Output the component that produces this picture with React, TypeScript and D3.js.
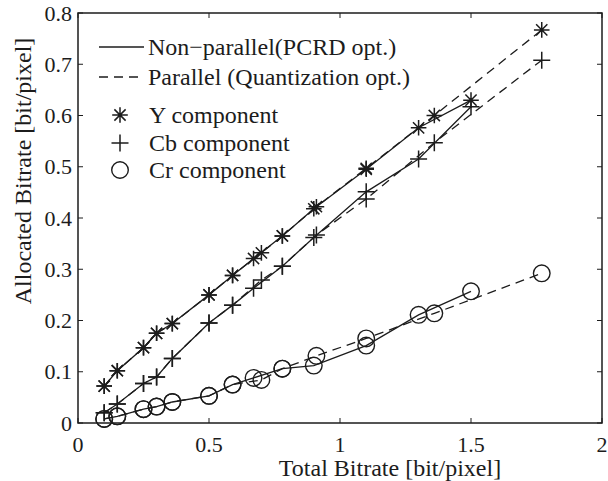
import React from 'react';
import * as d3 from 'd3';

// Non-parallel (PCRD opt.) - solid
const solidX = [0.1, 0.15, 0.25, 0.3, 0.36, 0.5, 0.59, 0.67, 0.78, 0.9, 1.1, 1.3, 1.5];
const solidY = [0.072, 0.102, 0.147, 0.175, 0.194, 0.25, 0.288, 0.321, 0.365, 0.418, 0.495, 0.576, 0.63];
const solidCb = [0.02, 0.037, 0.077, 0.09, 0.126, 0.195, 0.23, 0.263, 0.306, 0.362, 0.451, 0.515, 0.617];
const solidCr = [0.008, 0.013, 0.027, 0.032, 0.041, 0.053, 0.075, 0.088, 0.106, 0.112, 0.151, 0.211, 0.257];

// Parallel (Quantization opt.) - dashed
const dashedX = [0.1, 0.15, 0.25, 0.3, 0.36, 0.5, 0.59, 0.7, 0.78, 0.91, 1.1, 1.36, 1.77];
const dashedY = [0.072, 0.102, 0.147, 0.175, 0.194, 0.25, 0.288, 0.332, 0.365, 0.422, 0.497, 0.6, 0.767];
const dashedCb = [0.02, 0.037, 0.077, 0.09, 0.126, 0.195, 0.23, 0.279, 0.306, 0.367, 0.437, 0.547, 0.708];
const dashedCr = [0.008, 0.013, 0.027, 0.032, 0.041, 0.053, 0.075, 0.084, 0.106, 0.131, 0.165, 0.214, 0.292];

const xTicks = [0, 0.5, 1, 1.5, 2];
const yTicks = [0, 0.1, 0.2, 0.3, 0.4, 0.5, 0.6, 0.7, 0.8];

const W = 608;
const H = 481;
const margin = { left: 78, right: 6, top: 13, bottom: 58 };
const ink = '#1c1c1c';
const font = '"Liberation Serif", "Times New Roman", serif';

const markerPath = (kind: string, s: number) => {
  if (kind === 'plus') return `M${-s},0H${s}M0,${-s}V${s}`;
  const d = s * 0.72;
  return `M${-s},0H${s}M0,${-s}V${s}M${-d},${-d}L${d},${d}M${-d},${d}L${d},${-d}`;
};

const Marker = ({ kind, x, y }: { kind: string; x: number; y: number }) => {
  if (kind === 'circle')
    return <circle cx={x} cy={y} r={8.3} fill="none" stroke={ink} strokeWidth={1.4} />;
  const s = kind === 'plus' ? 8.5 : 7.8;
  return <path d={markerPath(kind, s)} transform={`translate(${x},${y})`} fill="none" stroke={ink} strokeWidth={1.5} />;
};

export default function App() {
  const x = d3.scaleLinear().domain([0, 2]).range([margin.left, W - margin.right]);
  const y = d3.scaleLinear().domain([0, 0.8]).range([H - margin.bottom, margin.top]);
  const line = d3
    .line<[number, number]>()
    .x((d) => x(d[0]))
    .y((d) => y(d[1]));

  const series = [
    { xs: solidX, ys: solidY, kind: 'star', dash: undefined },
    { xs: solidX, ys: solidCb, kind: 'plus', dash: undefined },
    { xs: solidX, ys: solidCr, kind: 'circle', dash: undefined },
    { xs: dashedX, ys: dashedY, kind: 'star', dash: '9,6' },
    { xs: dashedX, ys: dashedCb, kind: 'plus', dash: '9,6' },
    { xs: dashedX, ys: dashedCr, kind: 'circle', dash: '9,6' },
  ];

  const [x0, x1] = x.range();
  const [y0, y1] = y.range();

  return (
    <svg width={W} height={H} style={{ position: 'absolute', left: 0, top: 0, background: '#fff' }} fontFamily={font}>
      <rect width={W} height={H} fill="#fff" />
      {series.map((s, i) => (
        <g key={i}>
          <path
            d={line(s.xs.map((v, j) => [v, s.ys[j]]) as [number, number][]) as string}
            fill="none"
            stroke={ink}
            strokeWidth={1.3}
            strokeDasharray={s.dash}
          />
          {s.xs.map((v, j) => (
            <Marker key={j} kind={s.kind} x={x(v)} y={y(s.ys[j])} />
          ))}
        </g>
      ))}

      {/* axes box and ticks */}
      <rect x={x0} y={y1} width={x1 - x0} height={y0 - y1} fill="none" stroke={ink} strokeWidth={1.5} />
      {xTicks.map((t) => (
        <g key={'x' + t}>
          <line x1={x(t)} x2={x(t)} y1={y0} y2={y0 - 5} stroke={ink} strokeWidth={1} />
          <line x1={x(t)} x2={x(t)} y1={y1} y2={y1 + 5} stroke={ink} strokeWidth={1} />
          <text x={x(t)} y={y0 + 29} textAnchor="middle" fontSize={22} fill={ink}>
            {t}
          </text>
        </g>
      ))}
      {yTicks.map((t) => (
        <g key={'y' + t}>
          <line x1={x0} x2={x0 + 5} y1={y(t)} y2={y(t)} stroke={ink} strokeWidth={1} />
          <line x1={x1} x2={x1 - 5} y1={y(t)} y2={y(t)} stroke={ink} strokeWidth={1} />
          <text x={x0 - 6} y={y(t)} dy="0.35em" textAnchor="end" fontSize={22} fill={ink}>
            {t}
          </text>
        </g>
      ))}

      <text x={390} y={476} textAnchor="middle" fontSize={24} fill={ink}>
        Total Bitrate [bit/pixel]
      </text>
      <text transform={`translate(31,171) rotate(-90)`} textAnchor="middle" fontSize={24} fill={ink}>
        Allocated Bitrate [bit/pixel]
      </text>

      {/* legend */}
      <g fontSize={24} fill={ink}>
        <line x1={99} x2={144} y1={47} y2={47} stroke={ink} strokeWidth={1.3} />
        <text x={148} y={55}>Non−parallel(PCRD opt.)</text>
        <line x1={99} x2={144} y1={77} y2={77} stroke={ink} strokeWidth={1.3} strokeDasharray="9,6" />
        <text x={148} y={85}>Parallel (Quantization opt.)</text>
        <Marker kind="star" x={120} y={115} />
        <text x={149} y={123}>Y component</text>
        <Marker kind="plus" x={120} y={143} />
        <text x={149} y={151}>Cb component</text>
        <Marker kind="circle" x={120} y={170} />
        <text x={149} y={178}>Cr component</text>
      </g>
    </svg>
  );
}
